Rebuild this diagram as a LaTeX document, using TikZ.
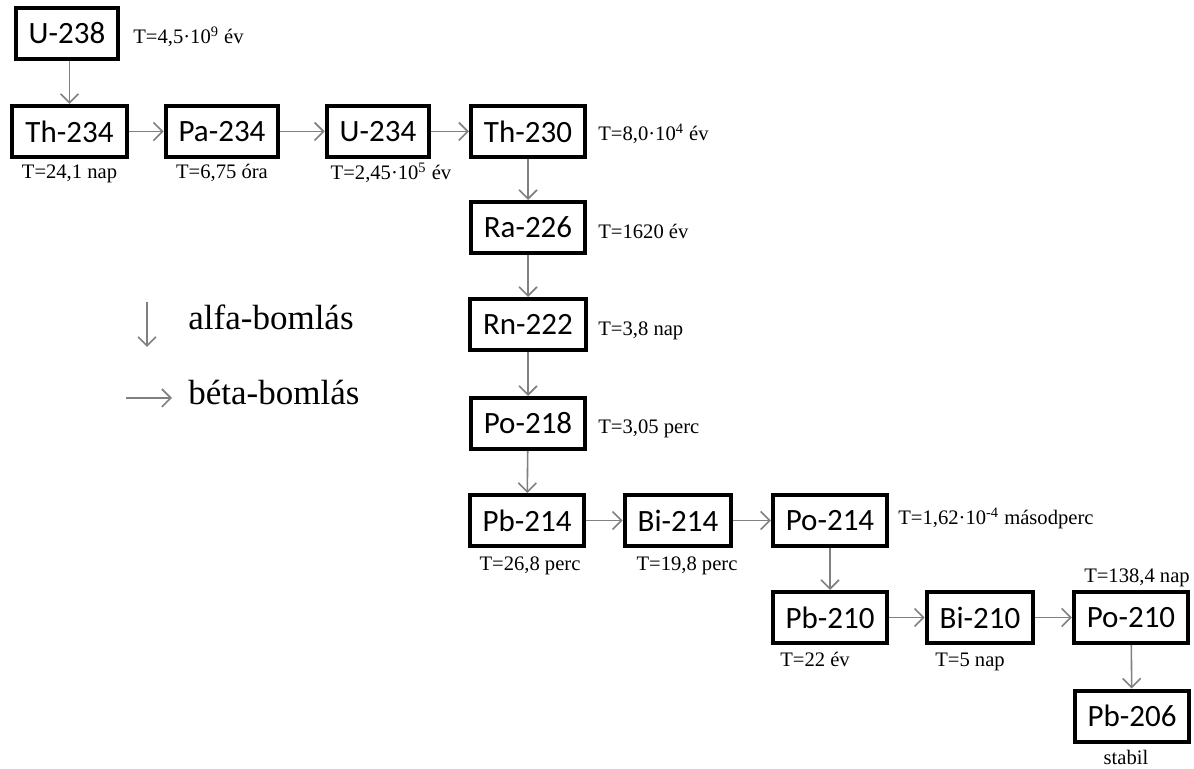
\documentclass[tikz,border=0pt]{standalone}
\usepackage{fontspec}
\setmainfont{Liberation Serif}
\newfontfamily\boxfont{Carlito}
\usetikzlibrary{arrows.meta}
\begin{document}
\begin{tikzpicture}[x=0.5pt,y=-0.5pt,
  nuc/.style={draw=black,line width=2pt,fill=white,inner xsep=6.5pt,inner ysep=0pt,
    minimum height=25.5pt,font=\boxfont\fontsize{15.5}{18}\selectfont},
  half/.style={inner sep=0pt,text height=7.6pt,text depth=2.2pt,font=\fontsize{10.3}{12}\selectfont},
  leg/.style={inner sep=0pt,text height=12.5pt,text depth=3.5pt,font=\fontsize{17.5}{20}\selectfont},
  decay/.style={draw=black!50,line width=0.8pt,-{Straight Barb[length=4.5pt,width=9pt]}}]
\useasboundingbox (0,0) rectangle (1194,769);
% nuclide boxes
\node[nuc] (u238)  at (67,33.5)   {U-238};
\node[nuc] (th234) at (69.5,131.5) {Th-234};
\node[nuc] (pa234) at (222,131.5) {Pa-234};
\node[nuc] (u234)  at (378,131.5) {U-234};
\node[nuc] (th230) at (528,131.5) {Th-230};
\node[nuc] (ra226) at (528,227.5) {Ra-226};
\node[nuc] (rn222) at (528,324.5) {Rn-222};
\node[nuc] (po218) at (528,423.5) {Po-218};
\node[nuc] (pb214) at (527,520.5) {Pb-214};
\node[nuc] (bi214) at (678,520.5) {Bi-214};
\node[nuc] (po214) at (830,520.5) {Po-214};
\node[nuc] (pb210) at (830,617.5) {Pb-210};
\node[nuc] (bi210) at (980,617.5) {Bi-210};
\node[nuc] (po210) at (1131,617.5) {Po-210};
\node[nuc] (pb206) at (1132,716) {Pb-206};
% half-lives
\node[half,anchor=west] (lu238) at (133,38) {T=4,5·10\textsuperscript{9} év};
\node[half] (lth234) at (69.5,173) {T=24,1 nap};
\node[half] (lpa234) at (222,173) {T=6,75 óra};
\node[half] (lu234) at (391,174) {T=2,45·10\textsuperscript{5} év};
\node[half,anchor=west] (lth230) at (598,135) {T=8,0·10\textsuperscript{4} év};
\node[half,anchor=west] (lra226) at (598,233) {T=1620 év};
\node[half,anchor=west] (lrn222) at (598,330) {T=3,8 nap};
\node[half,anchor=west] (lpo218) at (598,428) {T=3,05 perc};
\node[half] (lpb214) at (530,565) {T=26,8 perc};
\node[half] (lbi214) at (687,565) {T=19,8 perc};
\node[half,anchor=west] (lpo214) at (898,519) {T=1,62·10\textsuperscript{-4} másodperc};
\node[half] (lpb210) at (815,661) {T=22 év};
\node[half] (lbi210) at (970,661) {T=5 nap};
\node[half] (lpo210) at (1137,577) {T=138,4 nap};
\node[half] (lpb206) at (1126,759) {stabil};
% decays
\draw[decay] (u238.south -| th234.north) -- (th234.north);
\draw[decay] (th234) -- (pa234);
\draw[decay] (pa234) -- (u234);
\draw[decay] (u234) -- (th230);
\draw[decay] (th230) -- (ra226);
\draw[decay] (ra226) -- (rn222);
\draw[decay] (rn222) -- (po218);
\draw[decay] (po218) -- (pb214);
\draw[decay] (pb214) -- (bi214);
\draw[decay] (bi214) -- (po214);
\draw[decay] (po214) -- (pb210);
\draw[decay] (pb210) -- (bi210);
\draw[decay] (bi210) -- (po210);
\draw[decay] (po210) -- (pb206);
% legend
\coordinate (a1) at (147,302);
\coordinate (a2) at (147,347);
\coordinate (b1) at (126,398);
\coordinate (b2) at (172,398);
\draw[decay] (a1) -- (a2);
\draw[decay] (b1) -- (b2);
\node[leg,anchor=west] (lalfa) at (188,321) {alfa-bomlás};
\node[leg,anchor=west] (lbeta) at (188,396) {béta-bomlás};
\end{tikzpicture}
\end{document}
